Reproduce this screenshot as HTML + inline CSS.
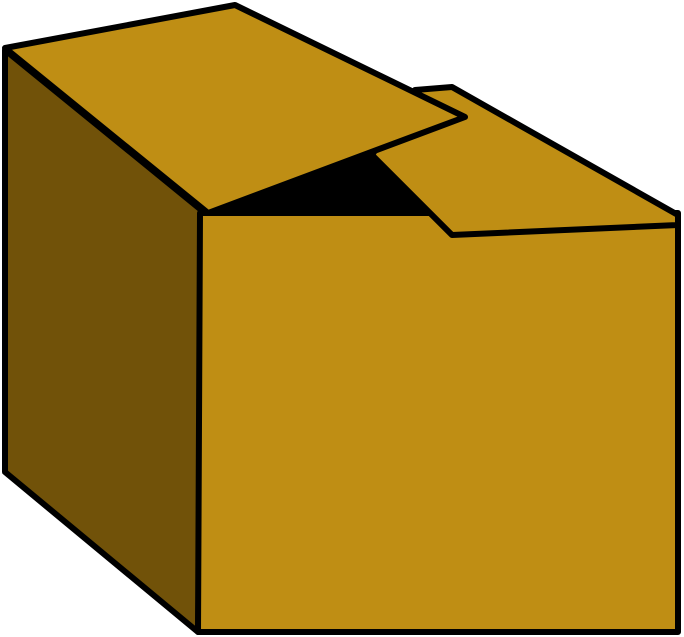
<!DOCTYPE html>
<html><head><meta charset="utf-8"><style>html,body{margin:0;padding:0;background:#fff;}svg{display:block}</style></head>
<body>
<svg width="684" height="637" viewBox="0 0 684 637">
<g stroke="#000" stroke-width="6" stroke-linejoin="round" stroke-linecap="round">
<polygon points="5,50 205,213 198,632 5,472" fill="#715209"/>
<polygon points="200,213 678,213 678,632 198,632" fill="#BF8E14"/>
<polygon points="206,213 372,152 440,213" fill="#000"/>
<polygon points="372,155 415,90 452,87 678,215 678,225 452,235" fill="#BF8E14"/>
<polygon points="5,48 235,5 465,117 208,213" fill="#BF8E14"/>
</g>
</svg>
</body></html>
